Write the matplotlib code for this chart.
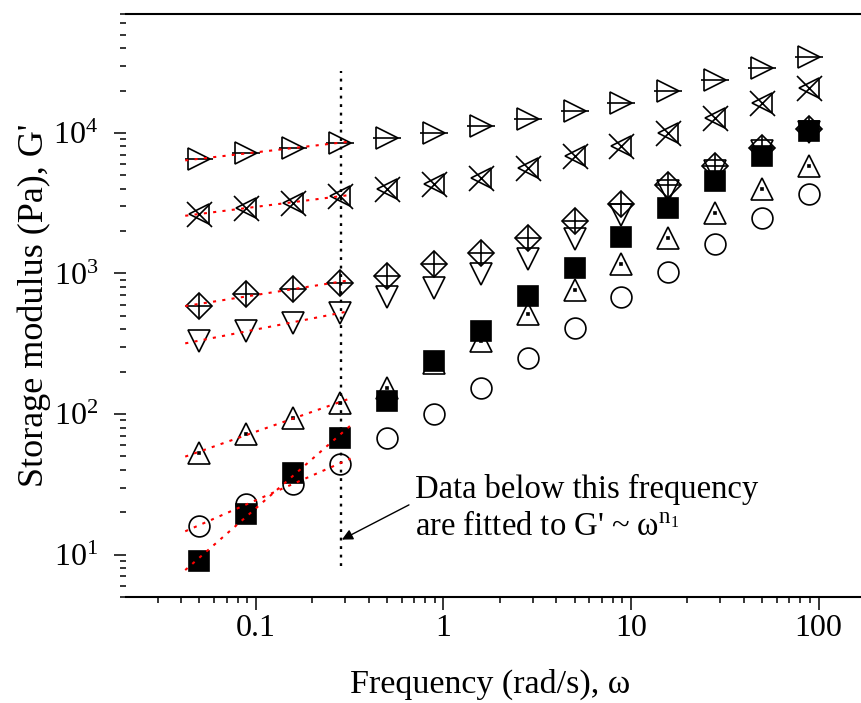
"""G' vs frequency, log-log, with power-law fits of the low-frequency points."""
import numpy as np
import matplotlib
matplotlib.use("Agg")
import matplotlib.pyplot as plt
from matplotlib.ticker import FixedLocator, FixedFormatter, NullFormatter

plt.rcParams["font.family"] = ["Liberation Serif", "DejaVu Serif"]
plt.rcParams["mathtext.fontset"] = "custom"
plt.rcParams["mathtext.rm"] = "Liberation Serif"
plt.rcParams["mathtext.it"] = "Liberation Serif:italic"

# frequency (rad/s)
freq = [0.05, 0.0889, 0.158, 0.281, 0.5, 0.889, 1.58, 2.81, 5.0, 8.89, 15.8, 28.1, 50.0, 88.9]

# storage modulus G' (Pa), one list per sample
g_tri_right = [6500, 7200, 7800, 8480, 9200, 9980, 11200, 12500, 14300, 16300, 19900, 23800, 28900, 34600]
g_cross = [2650, 2930, 3180, 3560, 3990, 4330, 4780, 5630, 6850, 8070, 9980, 12800, 16300, 20900]
g_diamond = [590, 716, 777, 858, 961, 1170, 1400, 1790, 2360, 3120, 4260, 5820, 7810, 10700]
g_tri_down = [332, 391, 446, 525, 682, 790, 994, 1270, 1760, 2610, 3870, 5360, 7430, 10150]
g_square = [9.06, 19.6, 38.3, 67.9, 124, 239, 391, 693, 1100, 1820, 2930, 4550, 6850, 10300]
g_tri_up = [53.1, 72.4, 94.1, 120, 154, 232, 332, 516, 764, 1170, 1790, 2700, 3990, 5820]
g_circle = [16.1, 23.0, 32.0, 44.4, 67.9, 100, 154, 251, 411, 682, 1030, 1620, 2490, 3680]

N_FIT = 4                      # points used for the G' ~ w^n1 fit
FIT_RANGE = (0.042, 0.32)
FIT_LIMIT = 0.285              # dotted vertical line
FIT_LIMIT_Y = (8.35, 27500)

x_major = [0.1, 1, 10, 100]
x_major_labels = ["0.1", "1", "10", "100"]
y_major = [10, 100, 1000, 10000]
y_major_labels = [r"$10^1$", r"$10^2$", r"$10^3$", r"$10^4$"]

# (marker, size, filled) layers drawn on top of each other for each series
SERIES = [
    (g_circle, [("o", 15, False)]),
    (g_tri_up, [("^", 16, False), ("s", 1.6, True)]),
    (g_tri_down, [("v", 16, False)]),
    (g_diamond, [("D", 13, False), ("+", 19, False)]),
    (g_square, [("s", 14, True)]),
    (g_cross, [("<", 15, False), ("x", 18, False)]),
    (g_tri_right, [(">", 16, False), ("_", 20, False)]),
]


def main():
    fig = plt.figure(figsize=(8.62, 7.03), dpi=100)
    ax = fig.add_axes([126 / 862, 106 / 703, 749 / 862, 583 / 703])
    ax.set_xscale("log")
    ax.set_yscale("log")

    x = np.array(freq)
    xf = np.geomspace(*FIT_RANGE, 50)
    for z, (g, layers) in enumerate(SERIES):
        g = np.array(g, dtype=float)
        for m, ms, filled in layers:
            ax.plot(x, g, ls="none", marker=m, ms=ms,
                    mfc="black" if filled else "none", mec="black",
                    mew=1.2, zorder=3 + z * 0.1)
        # power-law fit to the low-frequency points
        n1, c = np.polyfit(np.log10(x[:N_FIT]), np.log10(g[:N_FIT]), 1)
        ax.plot(xf, 10 ** (c + n1 * np.log10(xf)), color="red", lw=1.5,
                ls=(0, (1.5, 3)), zorder=5)

    ax.plot([FIT_LIMIT, FIT_LIMIT], FIT_LIMIT_Y, color="black", lw=1.7,
            ls=(0, (1.2, 2.4)), zorder=2)
    ax.annotate("", xy=(0.2875, 12.8), xytext=(0.655, 22.6),
                arrowprops=dict(arrowstyle="-|>", color="black", lw=1.0,
                                mutation_scale=16, shrinkA=0, shrinkB=0))
    ax.text(0.705, 21.5,
            "Data below this frequency\nare fitted to G' ~ ω$^{\\mathrm{n}_1}$",
            fontsize=23.5, ha="left", va="center", linespacing=1.25)

    ax.set_xlim(0.0203, 200)
    ax.set_ylim(5, 7e4)

    ax.xaxis.set_major_locator(FixedLocator(x_major))
    ax.xaxis.set_major_formatter(FixedFormatter(x_major_labels))
    ax.xaxis.set_minor_locator(FixedLocator(
        [m * 10.0 ** e for e in range(-2, 3) for m in range(2, 10) if m * 10.0 ** e >= 0.03]))
    ax.xaxis.set_minor_formatter(NullFormatter())
    ax.yaxis.set_major_locator(FixedLocator(y_major))
    ax.yaxis.set_major_formatter(FixedFormatter(y_major_labels))
    ax.yaxis.set_minor_locator(FixedLocator(
        [m * 10.0 ** e for e in range(0, 5) for m in range(2, 10)]))
    ax.yaxis.set_minor_formatter(NullFormatter())

    ax.tick_params(which="both", direction="out", width=1.1, labelsize=23)
    ax.tick_params(which="major", length=9)
    ax.tick_params(which="minor", length=4.5)
    ax.tick_params(axis="x", which="major", pad=3)
    ax.tick_params(axis="y", which="major", pad=11)

    for side in ("left", "right"):
        ax.spines[side].set_visible(False)
    for side in ("top", "bottom"):
        ax.spines[side].set_linewidth(1.5)

    ax.set_xlabel("Frequency (rad/s), ω", fontsize=24.5)
    ax.set_ylabel("Storage modulus (Pa), G'", fontsize=26)
    ax.xaxis.set_label_coords(0.486, -0.123)
    ax.yaxis.set_label_coords(-0.10, 0.5)

    fig.savefig("out.png", dpi=100)


if __name__ == "__main__":
    main()
